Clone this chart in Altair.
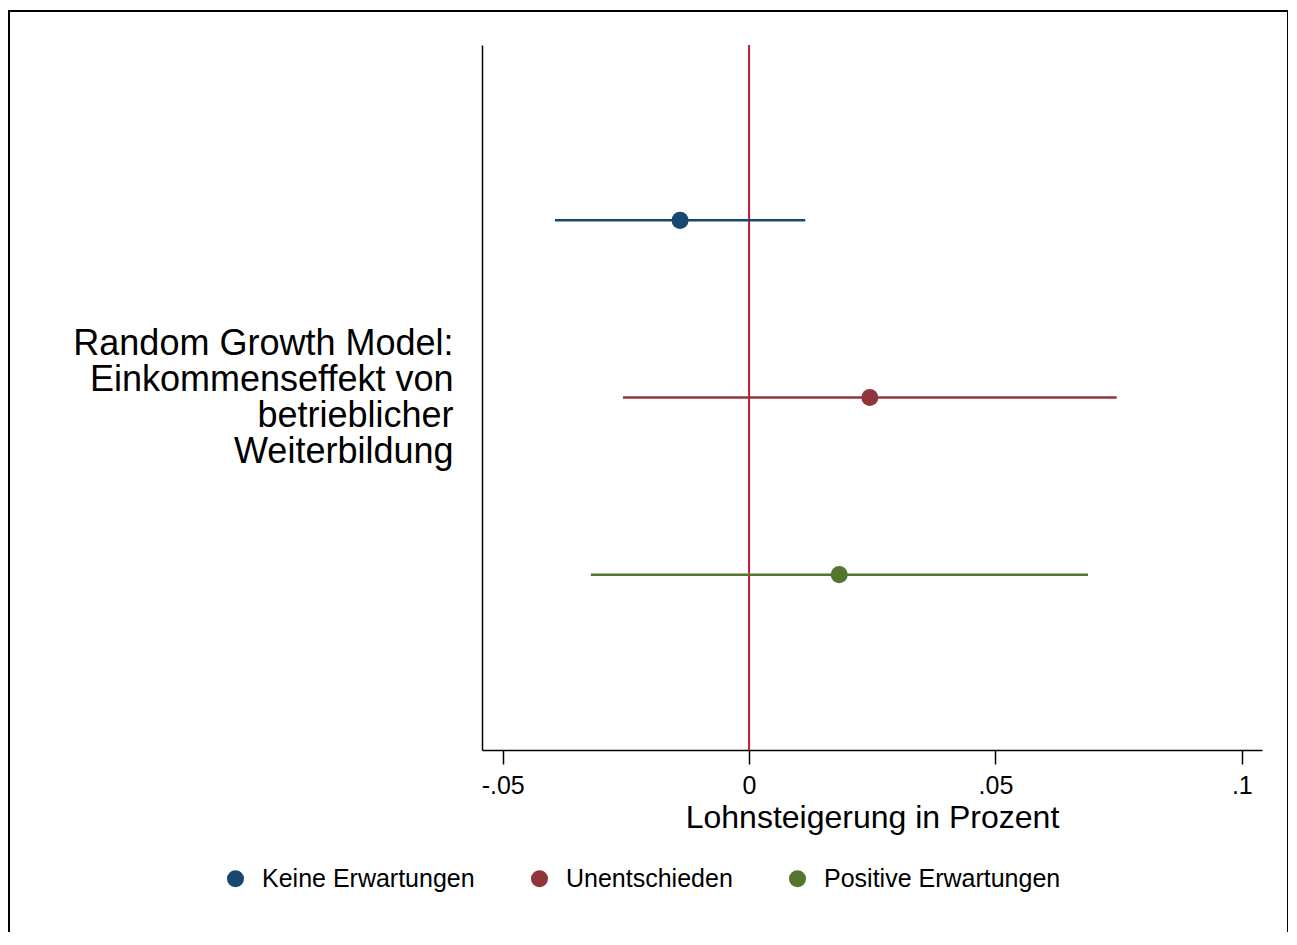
import altair as alt
import pandas as pd

# ---- data ----
model_label = "Random Growth Model:|Einkommenseffekt von|betrieblicher|Weiterbildung"
groups = ["Keine Erwartungen", "Unentschieden", "Positive Erwartungen"]
estimates = [-0.014, 0.0245, 0.0183]
ci_low = [-0.0394, -0.0256, -0.0321]
ci_high = [0.0114, 0.0746, 0.0688]
colors = ["#1a476f", "#90353b", "#55752f"]
x_ticks = [-0.05, 0, 0.05, 0.1]

df = pd.DataFrame({
    "model": [model_label] * 3,
    "group": groups,
    "est": estimates,
    "lo": ci_low,
    "hi": ci_high,
})

FONT = "Liberation Sans"
W, H = 780, 705

xscale = alt.Scale(domain=[-0.0542, 0.1041], nice=False, zero=False)
color = alt.Color("group:N", sort=groups,
                  scale=alt.Scale(domain=groups, range=colors),
                  legend=alt.Legend(title=None, orient="none", direction="horizontal",
                                    legendX=-259, legendY=821,
                                    symbolType="circle", symbolSize=290,
                                    symbolStrokeWidth=0, symbolOpacity=1,
                                    labelFont=FONT, labelFontSize=25, labelColor="#000000",
                                    labelLimit=0,
                                    labelOffset=14, columnPadding=52, symbolOffset=0))

yenc = alt.Y("model:N",
             scale=alt.Scale(paddingInner=0, paddingOuter=0),
             axis=alt.Axis(title=None, ticks=False, tickSize=0, grid=False,
                           domain=True, domainColor="#000000", domainWidth=1.5,
                           labelExpr="split(datum.label, '|')",
                           labelFont=FONT, labelFontSize=36, labelLineHeight=36,
                           labelAlign="right", labelBaseline="middle",
                           labelOffset=-54,
                           labelPadding=29, labelColor="#000000", labelLimit=0))
yoff = alt.YOffset("group:N", sort=groups,
                   scale=alt.Scale(domain=groups, paddingInner=0, paddingOuter=0.49))

base = alt.Chart(df)

frame = alt.Chart(pd.DataFrame({"f": [1]})).mark_rect(
    fill=None, stroke="#000000", strokeWidth=2
).encode(x=alt.value(-473), x2=alt.value(806), y=alt.value(-34), y2=alt.value(1000))

zero_line = alt.Chart(pd.DataFrame({"z": [0]})).mark_rule(
    color="#c9163d", strokeWidth=2
).encode(x=alt.X("z:Q", scale=xscale))

ci = base.mark_rule(strokeWidth=2.5).encode(
    x=alt.X("lo:Q", scale=xscale,
            axis=alt.Axis(title="Lohnsteigerung in Prozent", values=x_ticks,
                          labelExpr="datum.value == 0 ? '0' : (datum.value < 0 ? '-' : '') + replace(format(abs(datum.value), '.2~f'), '0.', '.')",
                          grid=False, tickSize=14, tickColor="#000000", tickWidth=1.5,
                          domainColor="#000000", domainWidth=1.5,
                          labelFont=FONT, labelFontSize=25, labelColor="#000000",
                          labelPadding=9, labelFlush=False,
                          titleFont=FONT, titleFontSize=32, titleFontWeight="normal",
                          titleColor="#000000", titlePadding=4)),
    x2="hi:Q",
    y=yenc, yOffset=yoff,
    color=color,
)

pts = base.mark_point(filled=True, opacity=1, size=290, shape="circle").encode(
    x=alt.X("est:Q", scale=xscale),
    y=yenc, yOffset=yoff,
    color=color,
)

chart = alt.layer(frame, zero_line, ci, pts).properties(
    width=W, height=H,
    autosize=alt.AutoSizeParams(type="none"),
    padding={"left": 474, "top": 37, "right": 26, "bottom": 182},
    view=alt.ViewBackground(strokeOpacity=0, strokeWidth=0),
).configure_view(strokeOpacity=0, strokeWidth=0).configure(background="#ffffff")

chart.save("out.html", embed_options={"renderer": "svg", "actions": False})
